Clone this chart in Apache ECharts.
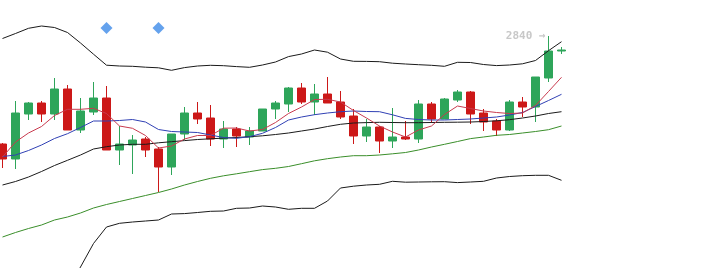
<!DOCTYPE html>
<html>
<head>
<meta charset="utf-8">
<script src="https://cdn.jsdelivr.net/npm/echarts@6/dist/echarts.min.js"></script>
<style>html,body{margin:0;padding:0;background:#fff;overflow:hidden}#c{position:absolute;left:-4px;top:0;width:705px;height:268px}</style>
</head>
<body>
<div id="c"></div>
<script>
// candles: [open, close, low, high]
const candles = [
 [2624,2594,2576,2626],[2594,2686,2574,2710],[2684,2706,2672,2708],[2706,2684,2668,2710],
 [2684,2734,2672,2756],[2734,2652,2652,2742],[2652,2690,2646,2716],[2688,2716,2682,2748],
 [2716,2612,2612,2740],[2612,2624,2582,2660],[2622,2632,2564,2642],[2634,2612,2598,2638],
 [2614,2578,2528,2618],[2578,2644,2562,2644],[2644,2686,2632,2698],[2686,2674,2664,2708],
 [2676,2634,2620,2702],[2634,2654,2616,2670],[2654,2640,2618,2658],[2638,2650,2622,2658],
 [2650,2694,2650,2694],[2694,2706,2674,2710],[2704,2736,2688,2738],[2736,2708,2704,2746],
 [2708,2724,2682,2744],[2724,2706,2706,2758],[2708,2678,2674,2730],[2680,2640,2624,2694],
 [2640,2658,2628,2674],[2658,2630,2606,2660],[2630,2638,2616,2696],[2638,2634,2632,2670],
 [2634,2704,2626,2712],[2704,2674,2666,2708],[2674,2714,2674,2716],[2712,2728,2708,2732],
 [2728,2684,2664,2730],[2686,2668,2650,2694],[2670,2652,2640,2674],[2652,2708,2650,2712],
 [2708,2698,2678,2718],[2698,2758,2668,2758],[2756,2810,2748,2840],[2810,2812,2804,2818]
];
const ma5 = [2598,2628,2646,2659,2681,2693.4,2693.4,2695.4,2685,2660,2655.4,2641,2616,2620,2634,2641,2641,2655.6,2656,2650,2653,2667,2685,2698,2713,2713.4,2708,2691,2676,2660,2648,2638,2652,2660,2683,2700,2695,2690,2687,2685,2686,2701,2729,2757.4];
const ma10 = [2599,2602,2611,2622,2635,2644.6,2657,2670,2670,2671,2673,2668,2653,2649,2648,2647,2642,2637,2635.4,2638.6,2645.4,2657,2672,2678,2682.6,2686,2688.6,2690,2689,2688.6,2682.4,2675.2,2673,2672,2672,2673,2674,2676,2678,2682,2687,2699,2711,2723.4];
const bollMid = [2542,2549,2558,2569,2581,2591.4,2602,2614,2618.6,2622,2623.4,2623.4,2626.4,2628.6,2630.8,2633,2634.4,2635.8,2637,2638.6,2640.4,2643,2646,2650,2654,2659,2663.4,2666,2666.8,2667.4,2667,2666.6,2666.6,2667,2667.4,2667.6,2668,2669,2670.4,2672.6,2676,2680,2685,2688.6];
const bollUpper = [2835,2845,2855.4,2860,2857,2847,2826,2803.6,2781.6,2780,2779.4,2777.6,2776.4,2771.4,2776.8,2780,2781.4,2780.6,2778.8,2777.4,2782,2788,2798.8,2804,2812,2807.6,2794,2789.4,2789.2,2788.6,2785.6,2784,2782.6,2781.4,2779.4,2787.4,2787,2783,2780.8,2782,2784.4,2791,2810.6,2828.6];
const bollLower = [2249,2253,2260.6,2278,2305,2335.8,2378,2425,2458,2465.4,2468,2470,2472,2484,2484.8,2487,2489.4,2490,2495.4,2496,2500,2498,2493.4,2495.4,2495.4,2510,2536,2539.6,2542,2543.4,2549.4,2547.6,2548,2548.4,2548.6,2546.8,2548,2549.4,2556,2559,2560.6,2561.4,2561.4,2551.4];
const ma60 = [2438,2447,2455,2462,2472,2478,2486,2496,2503,2509,2515,2521,2527,2534,2542,2549,2555.4,2560.4,2564.4,2568.6,2572.8,2575.4,2579,2584.6,2590.4,2594.6,2598,2600.6,2600.6,2602,2604.4,2607,2612,2618,2623.4,2629,2634.8,2638,2641.4,2643,2646,2649,2652.6,2660];
const signals = [[8, 2856], [12, 2856]];
const maxMark = {index: 42, value: 2840};
const totalSlots = 54;

const categories = [];
for (let i = 0; i < totalSlots; i++) categories.push('D' + (i + 1));

const chart = echarts.init(document.getElementById('c'));
const lineBase = {type: 'line', showSymbol: false, symbol: 'none', animation: false, z: 3};
chart.setOption({
  animation: false,
  grid: {left: 0, right: 3, top: 0, bottom: 0},
  xAxis: {type: 'category', data: categories, show: false, boundaryGap: true},
  yAxis: {type: 'value', min: 2376, max: 2912, show: false, splitLine: {show: false}},
  series: [
    {
      type: 'candlestick', data: candles, barWidth: 9, z: 2,
      itemStyle: {color: '#2ea55a', color0: '#cc1818', borderColor: '#2ea55a', borderColor0: '#cc1818', borderWidth: 1},
      markPoint: {
        symbol: 'circle', symbolSize: 0,
        data: [{coord: [maxMark.index, maxMark.value], value: maxMark.value}],
        label: {show: true, position: 'left', distance: 3, color: '#c8c8c8', fontSize: 11, fontWeight: 'bold',
                fontFamily: 'DejaVu Sans Mono', formatter: p => p.value + ' \u2192'}
      }
    },
    Object.assign({}, lineBase, {name: 'UP', data: bollUpper, lineStyle: {color: '#1a1a1a', width: 1}}),
    Object.assign({}, lineBase, {name: 'MID', data: bollMid, lineStyle: {color: '#1a1a1a', width: 1}}),
    Object.assign({}, lineBase, {name: 'LOW', data: bollLower, lineStyle: {color: '#1a1a1a', width: 1}}),
    Object.assign({}, lineBase, {name: 'MA60', data: ma60, lineStyle: {color: '#3a8e2a', width: 1}}),
    Object.assign({}, lineBase, {name: 'MA10', data: ma10, lineStyle: {color: '#3040b4', width: 1}}),
    Object.assign({}, lineBase, {name: 'MA5', data: ma5, lineStyle: {color: '#c83a4e', width: 1}}),
    {type: 'scatter', data: signals, symbol: 'diamond', symbolSize: [12, 12], itemStyle: {color: '#3d8be8'}, z: 4}
  ]
});
</script>
</body>
</html>
